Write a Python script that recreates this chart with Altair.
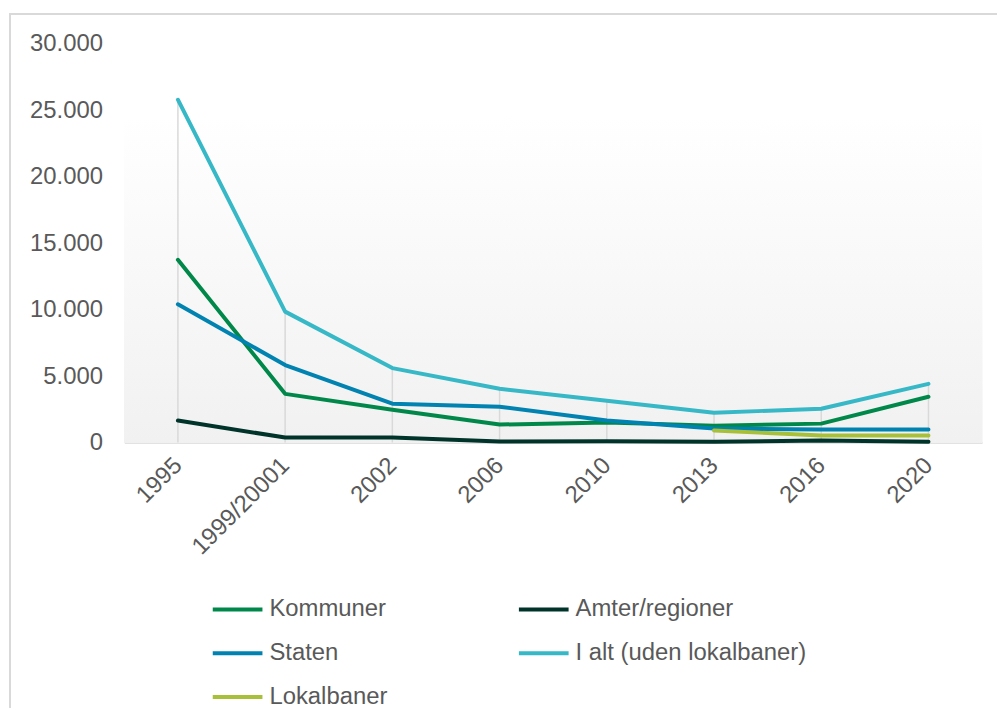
import altair as alt
import pandas as pd

years = ["1995", "1999/20001", "2002", "2006", "2010", "2013", "2016", "2020"]
series_names = ["Kommuner", "Staten", "Lokalbaner", "Amter/regioner", "I alt (uden lokalbaner)"]
kommuner = [13750, 3660, 2470, 1350, 1500, 1270, 1420, 3440]
staten = [10400, 5830, 2920, 2690, 1650, 1050, 970, 970]
lokalbaner = [None, None, None, None, None, 900, 520, 520]
amter = [1650, 370, 370, 70, 100, 50, 150, 50]
i_alt = [25800, 9850, 5600, 4040, 3140, 2240, 2540, 4410]
colors = ["#00884A", "#0083B0", "#A8BF3A", "#00332A", "#36B8C6"]
y_ticks = [0, 5000, 10000, 15000, 20000, 25000, 30000]

rows = []
for name, vals in zip(series_names, [kommuner, staten, lokalbaner, amter, i_alt]):
    for yr, v in zip(years, vals):
        if v is not None:
            rows.append({"Aar": yr, "Serie": name, "Vaerdi": v})
df = pd.DataFrame(rows)
drop = pd.DataFrame({"Aar": years, "Top": i_alt, "Bund": [0] * len(years)})

W, H = 863, 401
FONT = "Liberation Sans"
GRAY = "#595959"
FS = 24

xs = alt.Scale(type="point", padding=0.5, domain=years)
ys = alt.Scale(domain=[0, 30000])

bg = alt.Chart(drop).mark_rect(
    color=alt.Gradient(
        gradient="linear", x1=0, y1=0, x2=0, y2=1,
        stops=[alt.GradientStop(color="#FFFFFF", offset=0),
               alt.GradientStop(color="#FFFFFF", offset=0.18),
               alt.GradientStop(color="#F1F1F1", offset=1)]
    )
).encode(x=alt.value(0), x2=alt.value(W), y=alt.value(0), y2=alt.value(H))

frame = alt.Chart(drop).mark_rect(fill=None, stroke="#D9D9D9", strokeWidth=1.5).encode(
    x=alt.value(-115), x2=alt.value(W + 200), y=alt.value(-30), y2=alt.value(H + 500)
)

drops = alt.Chart(drop).mark_rule(color="#D9D9D9", strokeWidth=1.5).encode(
    x=alt.X("Aar:N", scale=xs, sort=years),
    y=alt.Y("Top:Q", scale=ys),
    y2="Bund:Q",
)

lines = alt.Chart(df).mark_line(strokeWidth=4, strokeCap="round", strokeJoin="round").encode(
    x=alt.X("Aar:N", scale=xs, sort=years,
            axis=alt.Axis(title=None, labelAngle=-45, labelFontSize=FS, labelFont=FONT,
                          labelColor=GRAY, ticks=False, domainColor="#D9D9D9", domainWidth=1.5,
                          labelPadding=19, grid=False)),
    y=alt.Y("Vaerdi:Q", scale=ys,
            axis=alt.Axis(title=None, values=y_ticks, labelFontSize=FS, labelFont=FONT,
                          labelColor=GRAY, ticks=False, domain=False, grid=False,
                          labelPadding=22,
                          labelExpr="replace(format(datum.value, ','), ',', '.')")),
    color=alt.Color("Serie:N", scale=alt.Scale(domain=series_names, range=colors),
                    legend=alt.Legend(title=None, orient="none", legendX=87, legendY=542,
                                      columns=2, columnPadding=124, rowPadding=5,
                                      symbolType="stroke", symbolSize=2500, symbolStrokeWidth=4,
                                      labelFontSize=FS, labelFont=FONT, labelColor=GRAY,
                                      labelOffset=5, padding=0, labelLimit=400)),
    order=alt.Order("Aar:N"),
)

chart = alt.layer(frame, bg, drops, lines).properties(
    width=W, height=H,
    autosize=alt.AutoSizeParams(type="none"),
    padding={"left": 117, "top": 34, "right": 15, "bottom": 265},
).configure_view(stroke=None)

chart.save("out.html", embed_options={"renderer": "svg", "actions": False})
